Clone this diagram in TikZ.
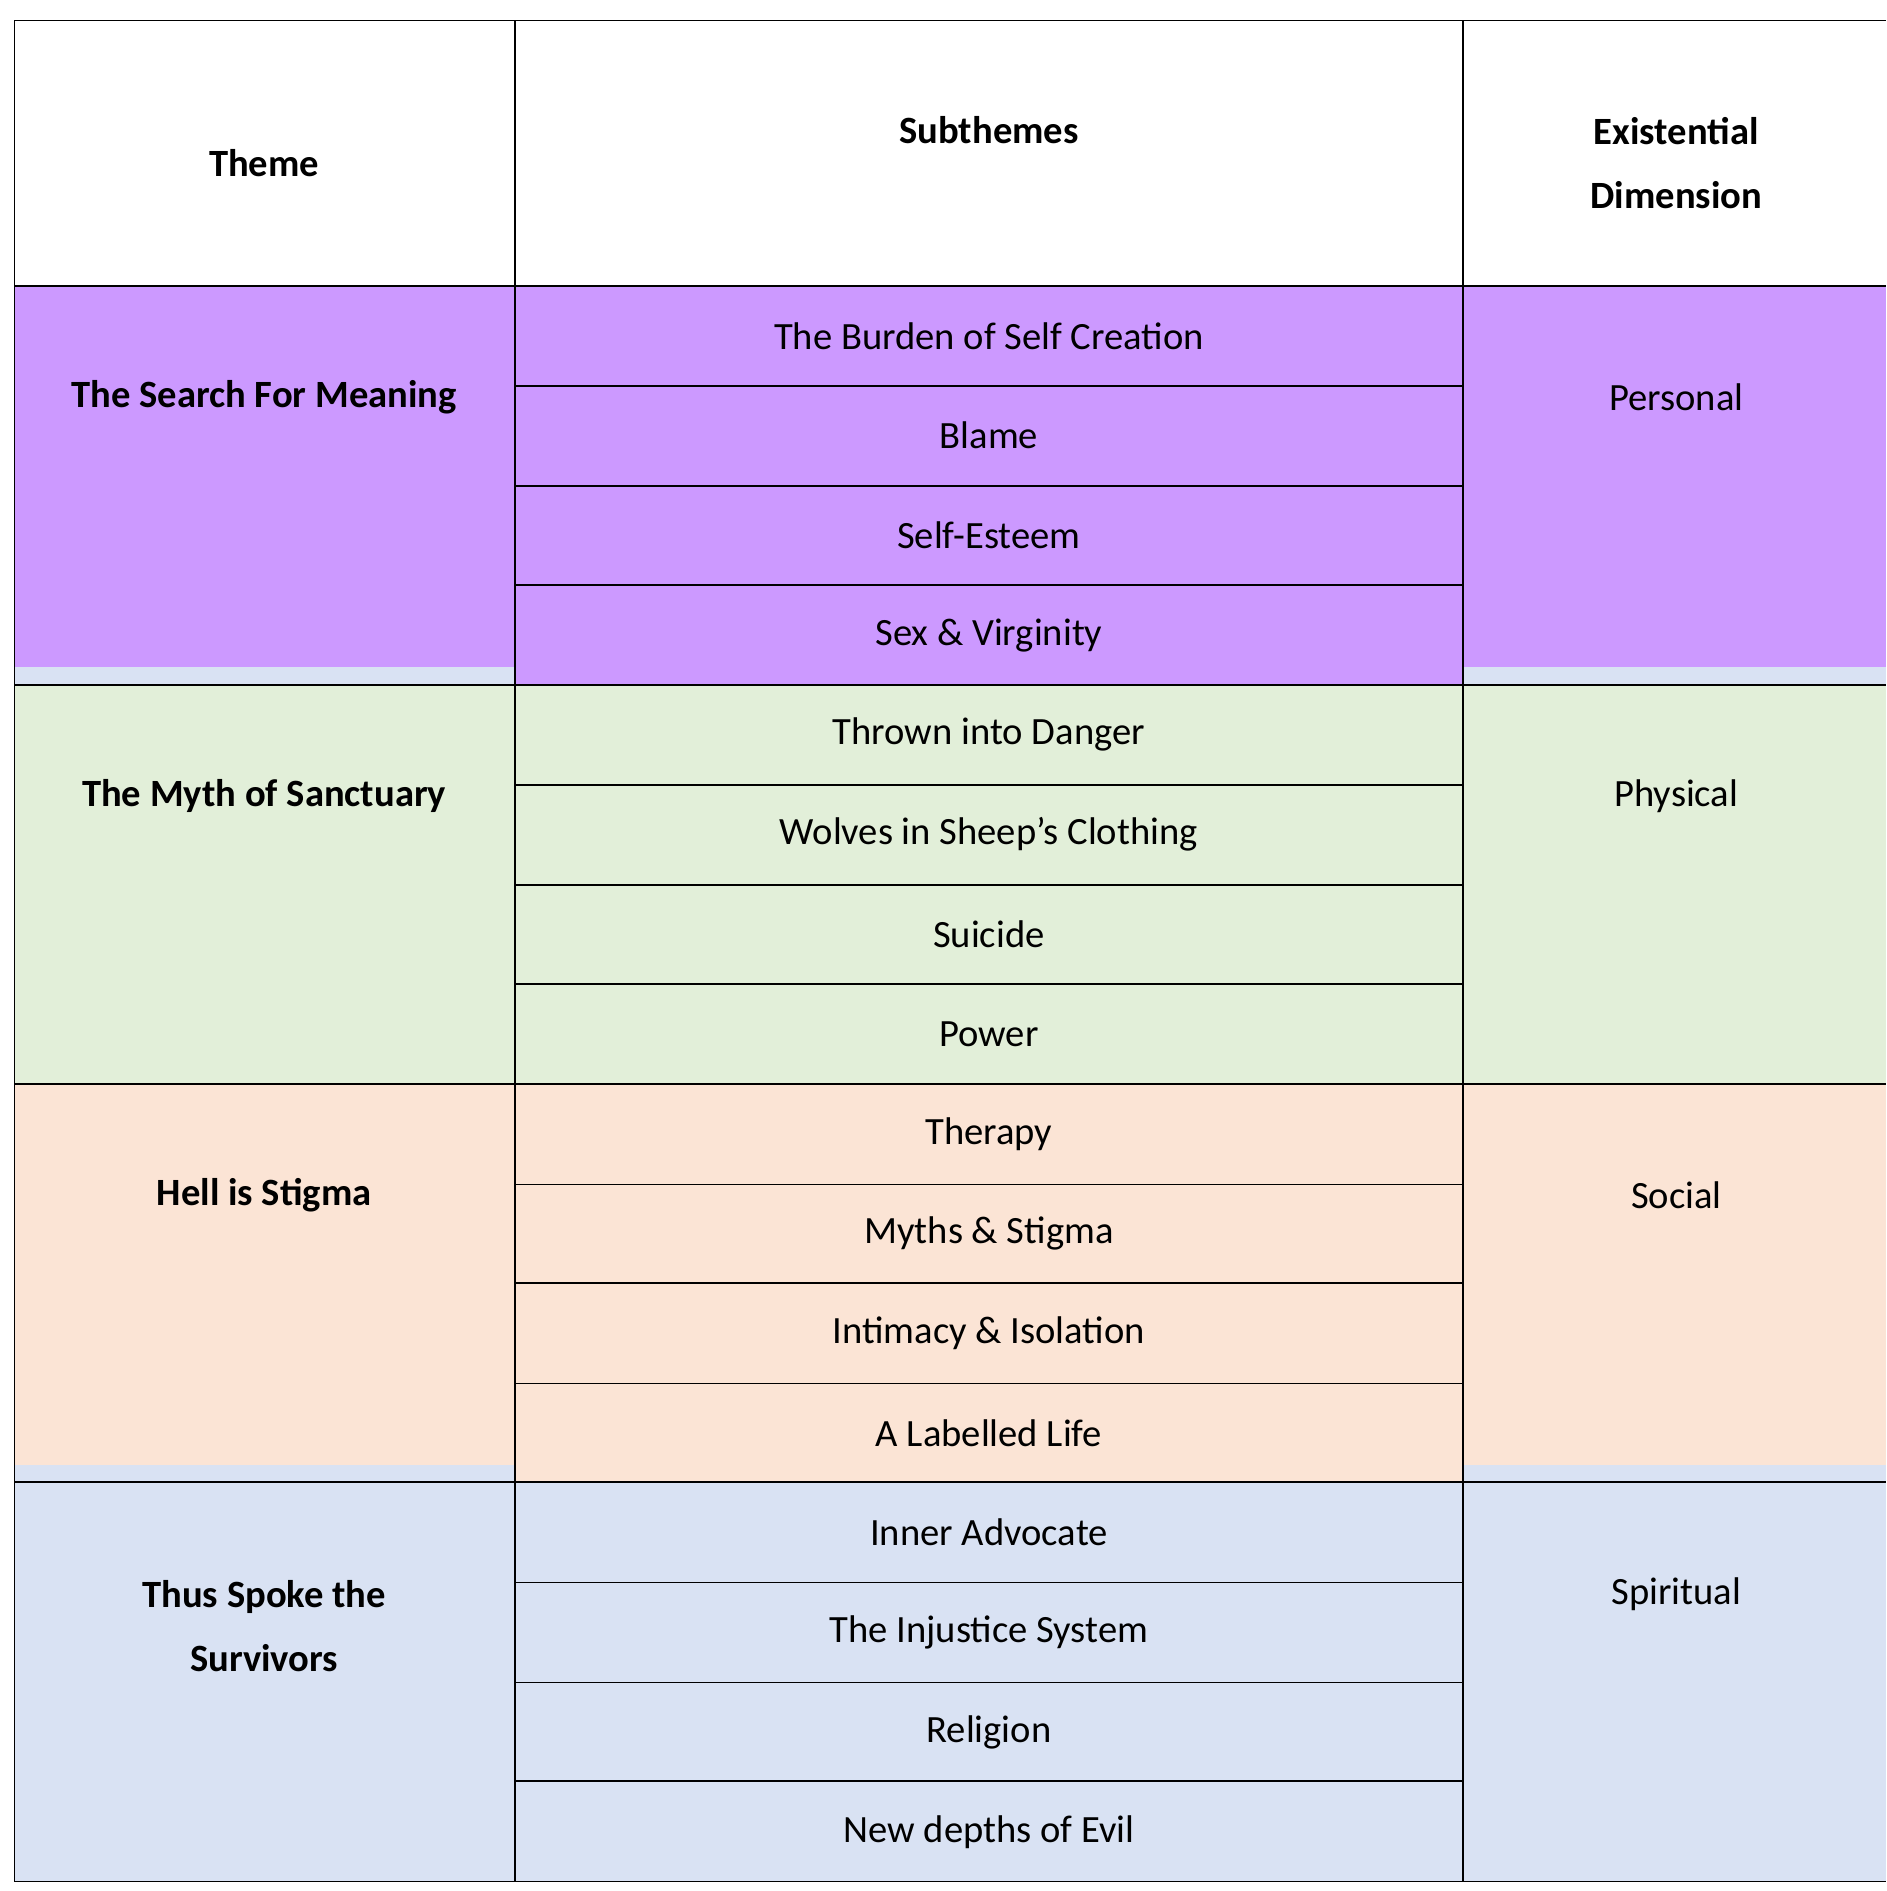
\documentclass[tikz,border=0pt]{standalone}
\usepackage{fontspec}
\setmainfont{Carlito}
\definecolor{cpur}{HTML}{CC99FF}
\definecolor{cgrn}{HTML}{E2EFD9}
\definecolor{cpch}{HTML}{FBE4D5}
\definecolor{cblu}{HTML}{D9E2F3}
\begin{document}
\begin{tikzpicture}[x=1pt,y=-1pt,
  txt/.style={font=\fontsize{32}{53}\selectfont,align=center,inner sep=0pt},
  bt/.style={txt,font=\fontsize{32}{53}\selectfont\bfseries},
  ln/.style={line width=1.3pt}]
\useasboundingbox (0,0) rectangle (1564,1568);
% fills
\fill[cblu] (12,553) rectangle (427,568);
\fill[cblu] (1213,553) rectangle (1564,568);
\fill[cblu] (12,1215) rectangle (427,1229);
\fill[cblu] (1213,1215) rectangle (1564,1229);
\fill[cpur] (12,237) rectangle (427,553);
\fill[cpur] (1213,237) rectangle (1564,553);
\fill[cpur] (427,237) rectangle (1213,568);
\fill[cgrn] (12,568) rectangle (1564,899);
\fill[cpch] (12,899) rectangle (427,1215);
\fill[cpch] (1213,899) rectangle (1564,1215);
\fill[cpch] (427,899) rectangle (1213,1229);
\fill[cblu] (12,1229) rectangle (1564,1560);
% lines
\draw[ln] (12,17) -- (1564,17);
\draw[ln] (12,17) -- (12,1560);
\draw[ln] (427,17) -- (427,1560);
\draw[ln] (1213,17) -- (1213,1560);
\foreach \y in {237,568,899,1229,1560} \draw[ln] (12,\y) -- (1564,\y);
\foreach \y in {320,403,485,651,734,816,982,1064,1147,1312,1395,1477} \draw[ln] (427,\y) -- (1213,\y);
% header
\node[bt] (h1) at (219,135) {Theme};
\node[bt] (h2) at (820,108) {Subthemes};
\node[bt] (h3) at (1390,135) {Existential\\Dimension};
% themes
\node[bt] (t1) at (219,329) {The Search For Meaning};
\node[bt] (t2) at (219,660) {The Myth of Sanctuary};
\node[bt] (t3) at (219,991) {Hell is Stigma};
\node[bt] (t4) at (219,1348) {Thus Spoke the\\Survivors};
\node[txt] (d1) at (1390,329) {Personal};
\node[txt] (d2) at (1390,660) {Physical};
\node[txt] (d3) at (1390,991) {Social};
\node[txt] (d4) at (1390,1322) {Spiritual};
% subthemes
\foreach \t [count=\i from 0] in {The Burden of Self Creation,Blame,Self-Esteem,Sex \& Virginity,Thrown into Danger,Wolves in Sheep’s Clothing,Suicide,Power,Therapy,Myths \& Stigma,Intimacy \& Isolation,A Labelled Life,Inner Advocate,The Injustice System,Religion,New depths of Evil}
  \node[txt] (s\i) at (820,{278.5+82.7*\i}) {\t};
\end{tikzpicture}
\end{document}
